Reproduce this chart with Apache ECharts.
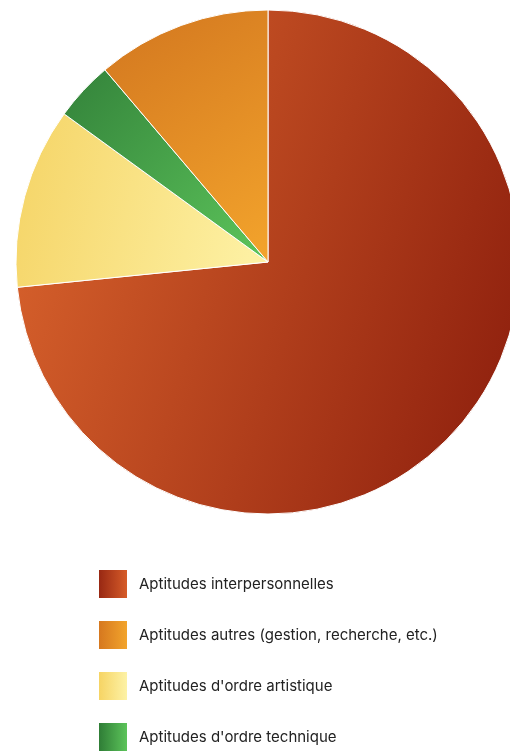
<!DOCTYPE html>
<html>
<head>
<meta charset="utf-8">
<script src="https://cdn.jsdelivr.net/npm/echarts@6/dist/echarts.min.js"></script>
<style>
  html, body { margin: 0; padding: 0; background: #fff; }
  #chart { width: 510px; height: 751px; }
</style>
</head>
<body>
<div id="chart"></div>
<script>
// Share of each skill category (percent), in drawing order (clockwise from 12 o'clock)
const categories = [
  'Aptitudes interpersonnelles',
  "Aptitudes d'ordre artistique",
  "Aptitudes d'ordre technique",
  'Aptitudes autres (gestion, recherche, etc.)'
];
const values = [73.4, 11.6, 3.8, 11.2];

// Order in which the legend lists the categories
const legendOrder = [
  'Aptitudes interpersonnelles',
  'Aptitudes autres (gestion, recherche, etc.)',
  "Aptitudes d'ordre artistique",
  "Aptitudes d'ordre technique"
];

function grad(x, y, x2, y2, c0, c1) {
  return new echarts.graphic.LinearGradient(x, y, x2, y2, [
    { offset: 0, color: c0 },
    { offset: 1, color: c1 }
  ]);
}

const sliceFill = {
  'Aptitudes interpersonnelles': grad(0, 0.3, 1, 0.6, '#d8622c', '#92230f'),
  "Aptitudes d'ordre artistique": grad(0, 0, 1, 0.3, '#f5d466', '#fdf0a2'),
  "Aptitudes d'ordre technique": grad(0, 0, 1, 1, '#33823a', '#5dc55b'),
  'Aptitudes autres (gestion, recherche, etc.)': grad(0, 0, 1, 1, '#d2761f', '#f3a42c')
};
const iconFill = {
  'Aptitudes interpersonnelles': grad(0, 0, 1, 0, '#982813', '#d65c29'),
  'Aptitudes autres (gestion, recherche, etc.)': grad(0, 0, 1, 0, '#d6781f', '#f2a42c'),
  "Aptitudes d'ordre artistique": grad(0, 0, 1, 0, '#f6d464', '#fdf2a6'),
  "Aptitudes d'ordre technique": grad(0, 0, 1, 0, '#2f7d36', '#5cc45a')
};

const chart = echarts.init(document.getElementById('chart'), null, { renderer: 'canvas' });
chart.setOption({
  animation: false,
  legend: {
    orient: 'vertical',
    left: 99,
    top: 570,
    height: 181,
    padding: 0,
    icon: 'rect',
    itemWidth: 28,
    itemHeight: 28,
    itemGap: 23,
    selectedMode: false,
    itemStyle: { borderWidth: 0 },
    textStyle: {
      fontFamily: 'Inter',
      fontSize: 15,
      color: '#222',
      padding: [0, 0, 0, 7]
    },
    data: legendOrder.map(name => ({ name, itemStyle: { color: iconFill[name], borderWidth: 0 } }))
  },
  series: [{
    type: 'pie',
    center: [268, 262],
    radius: [0, 252],
    startAngle: 90,
    clockwise: true,
    label: { show: false },
    labelLine: { show: false },
    emphasis: { disabled: true },
    itemStyle: { borderColor: '#fff', borderWidth: 1 },
    data: categories.map((name, i) => ({
      name,
      value: values[i],
      itemStyle: { color: sliceFill[name] }
    }))
  }]
});
</script>
</body>
</html>
